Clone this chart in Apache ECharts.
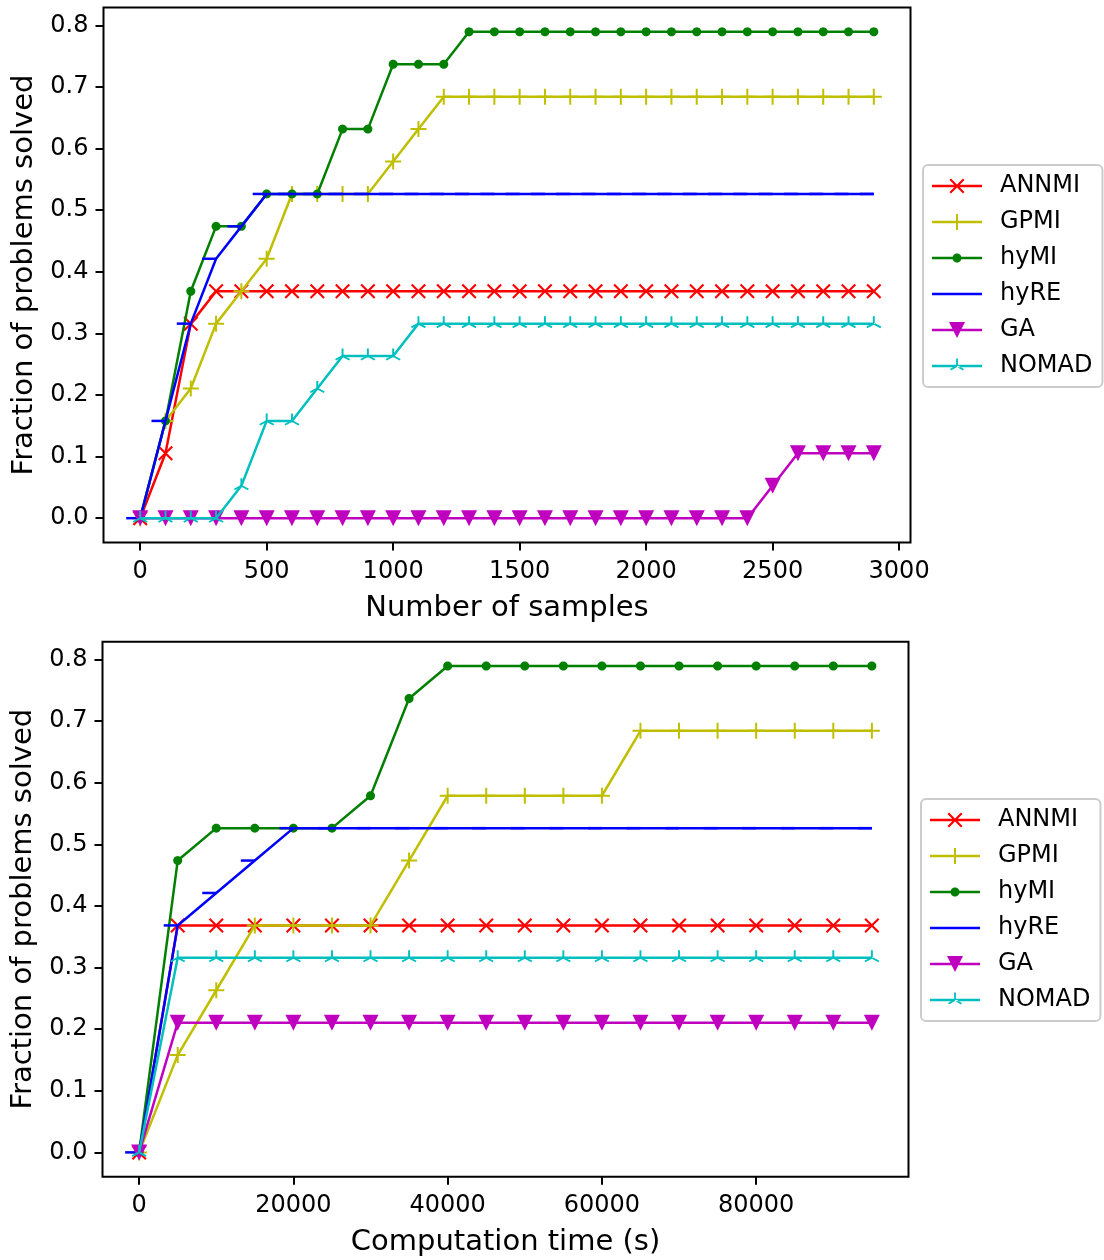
<!DOCTYPE html>
<html><head><meta charset="utf-8">
<script src="https://cdn.jsdelivr.net/npm/echarts@6/dist/echarts.min.js"></script>
<style>html,body{margin:0;padding:0;background:#fff}#c{width:1104px;height:1260px}</style>
</head><body><div id="c"></div>
<script>
// ---------------- data ----------------
const seriesNames = ['ANNMI', 'GPMI', 'hyMI', 'hyRE', 'GA', 'NOMAD'];

// Top panel: number of samples
const samplesX = [0,100,200,300,400,500,600,700,800,900,1000,1100,1200,1300,1400,1500,1600,1700,1800,1900,2000,2100,2200,2300,2400,2500,2600,2700,2800,2900];
const annmiSamples = [0,0.1053,0.3158,0.3684,0.3684,0.3684,0.3684,0.3684,0.3684,0.3684,0.3684,0.3684,0.3684,0.3684,0.3684,0.3684,0.3684,0.3684,0.3684,0.3684,0.3684,0.3684,0.3684,0.3684,0.3684,0.3684,0.3684,0.3684,0.3684,0.3684];
const gpmiSamples  = [0,0.1579,0.2105,0.3158,0.3684,0.4211,0.5263,0.5263,0.5263,0.5263,0.5789,0.6316,0.6842,0.6842,0.6842,0.6842,0.6842,0.6842,0.6842,0.6842,0.6842,0.6842,0.6842,0.6842,0.6842,0.6842,0.6842,0.6842,0.6842,0.6842];
const hymiSamples  = [0,0.1579,0.3684,0.4737,0.4737,0.5263,0.5263,0.5263,0.6316,0.6316,0.7368,0.7368,0.7368,0.7895,0.7895,0.7895,0.7895,0.7895,0.7895,0.7895,0.7895,0.7895,0.7895,0.7895,0.7895,0.7895,0.7895,0.7895,0.7895,0.7895];
const hyreSamples  = [0,0.1579,0.3158,0.4211,0.4737,0.5263,0.5263,0.5263,0.5263,0.5263,0.5263,0.5263,0.5263,0.5263,0.5263,0.5263,0.5263,0.5263,0.5263,0.5263,0.5263,0.5263,0.5263,0.5263,0.5263,0.5263,0.5263,0.5263,0.5263,0.5263];
const gaSamples    = [0,0,0,0,0,0,0,0,0,0,0,0,0,0,0,0,0,0,0,0,0,0,0,0,0,0.0526,0.1053,0.1053,0.1053,0.1053];
const nomadSamples = [0,0,0,0,0.0526,0.1579,0.1579,0.2105,0.2632,0.2632,0.2632,0.3158,0.3158,0.3158,0.3158,0.3158,0.3158,0.3158,0.3158,0.3158,0.3158,0.3158,0.3158,0.3158,0.3158,0.3158,0.3158,0.3158,0.3158,0.3158];

// Bottom panel: computation time (s)
const timeX = [0,5000,10000,15000,20000,25000,30000,35000,40000,45000,50000,55000,60000,65000,70000,75000,80000,85000,90000,95000];
const annmiTime = [0,0.3684,0.3684,0.3684,0.3684,0.3684,0.3684,0.3684,0.3684,0.3684,0.3684,0.3684,0.3684,0.3684,0.3684,0.3684,0.3684,0.3684,0.3684,0.3684];
const gpmiTime  = [0,0.1579,0.2632,0.3684,0.3684,0.3684,0.3684,0.4737,0.5789,0.5789,0.5789,0.5789,0.5789,0.6842,0.6842,0.6842,0.6842,0.6842,0.6842,0.6842];
const hymiTime  = [0,0.4737,0.5263,0.5263,0.5263,0.5263,0.5789,0.7368,0.7895,0.7895,0.7895,0.7895,0.7895,0.7895,0.7895,0.7895,0.7895,0.7895,0.7895,0.7895];
const hyreTime  = [0,0.3684,0.4211,0.4737,0.5263,0.5263,0.5263,0.5263,0.5263,0.5263,0.5263,0.5263,0.5263,0.5263,0.5263,0.5263,0.5263,0.5263,0.5263,0.5263];
const gaTime    = [0,0.2105,0.2105,0.2105,0.2105,0.2105,0.2105,0.2105,0.2105,0.2105,0.2105,0.2105,0.2105,0.2105,0.2105,0.2105,0.2105,0.2105,0.2105,0.2105];
const nomadTime = [0,0.3158,0.3158,0.3158,0.3158,0.3158,0.3158,0.3158,0.3158,0.3158,0.3158,0.3158,0.3158,0.3158,0.3158,0.3158,0.3158,0.3158,0.3158,0.3158];

// Tick labels
const samplesTicks = [0,500,1000,1500,2000,2500,3000];
const timeTicks = [0,20000,40000,60000,80000];
const fracTicks = [0,0.1,0.2,0.3,0.4,0.5,0.6,0.7,0.8];

const xNameTop = 'Number of samples';
const xNameBottom = 'Computation time (s)';
const yName = 'Fraction of problems solved';

// ---------------- styles ----------------
const FONT = 'DejaVu Sans';
const TICK_FS = 24;
const NAME_FS = 29;
const colors = ['#ff0000', '#bfbf00', '#008000', '#0000ff', '#bf00bf', '#00bfbf'];

function circlePoly(n) {
  const p = [];
  for (let i = 0; i < n; i++) { const a = 2 * Math.PI * i / n; p.push([10 + 10 * Math.cos(a), 10 + 10 * Math.sin(a)]); }
  return p;
}
const shapes = {
  x: [[[0,2],[2,0],[10,8],[18,0],[20,2],[12,10],[20,18],[18,20],[10,12],[2,20],[0,18],[8,10]]],
  plus: [[[8.75,0],[11.25,0],[11.25,8.75],[20,8.75],[20,11.25],[11.25,11.25],[11.25,20],[8.75,20],[8.75,11.25],[0,11.25],[0,8.75],[8.75,8.75]]],
  dot: [circlePoly(32)],
  tickleft: [[[0,9],[20,9],[20,11],[0,11]]],
  tridown: [[[0,0],[20,0],[10,20]]],
  triup: [
    [[8.8,0],[11.2,0],[11.2,10],[8.8,10]],
    [[10.6,11.039],[1.94,16.039],[0.74,13.961],[9.4,8.961]],
    [[9.4,11.039],[18.06,16.039],[19.26,13.961],[10.6,8.961]],
    [[10,20],[10.05,20],[10,19.95]]
  ]
};
const seriesShape = ['x', 'plus', 'dot', 'tickleft', 'tridown', 'triup'];
const seriesSize = [15, 16, 9, [14, 2.5], 16, 15];

function toPath(polys, dx, dy, s) {
  return 'path://' + polys.map(p => 'M' + p.map(([x, y]) => (dx + x * s).toFixed(3) + ',' + (dy + y * s).toFixed(3)).join('L') + 'Z').join(' ');
}
function legendIcon(k) {
  const line = [[[0,8.75],[50,8.75],[50,11.25],[0,11.25]]];
  if (seriesShape[k] === 'tickleft') return toPath(line, 0, 0, 1);
  const sz = seriesSize[k];
  const s = sz / 20;
  return toPath(line, 0, 0, 1) + ' ' + toPath(shapes[seriesShape[k]], 25 - 10 * s, 10 - 10 * s, s).slice(7);
}

const valuesTop = [annmiSamples, gpmiSamples, hymiSamples, hyreSamples, gaSamples, nomadSamples];
const valuesBottom = [annmiTime, gpmiTime, hymiTime, hyreTime, gaTime, nomadTime];

function mkSeries(g, xs, ys, k) {
  const isTick = seriesShape[k] === 'tickleft';
  return {
    type: 'line', name: seriesNames[k], xAxisIndex: g, yAxisIndex: g,
    data: xs.map((x, i) => [x, ys[i]]),
    symbol: toPath(shapes[seriesShape[k]], 0, 0, 1),
    symbolSize: seriesSize[k],
    symbolOffset: isTick ? [-7, 0] : [0, 0],
    showSymbol: true,
    lineStyle: { color: colors[k], width: 2.5 },
    itemStyle: { color: colors[k], borderWidth: 0 },
    z: 2 + k, animation: false, emphasis: { disabled: true }, silent: true
  };
}

function mkXAxis(g, min, max, ticks, name) {
  return {
    type: 'value', gridIndex: g, min: min, max: max,
    name: name, nameLocation: 'middle', nameGap: 51,
    nameTextStyle: { fontSize: NAME_FS, fontFamily: FONT, color: '#000' },
    axisLine: { show: false, onZero: false },
    axisTick: { show: true, length: 8, lineStyle: { color: '#000', width: 2 }, customValues: ticks },
    axisLabel: { fontSize: TICK_FS, fontFamily: FONT, color: '#000', margin: 17, customValues: ticks, formatter: v => String(v) },
    splitLine: { show: false }
  };
}
function mkYAxis(g) {
  return {
    type: 'value', gridIndex: g, min: -0.03947, max: 0.82895,
    name: yName, nameLocation: 'middle', nameGap: 65, nameRotate: 90,
    nameTextStyle: { fontSize: NAME_FS, fontFamily: FONT, color: '#000' },
    axisLine: { show: false, onZero: false },
    axisTick: { show: true, length: 8, lineStyle: { color: '#000', width: 2 }, customValues: fracTicks },
    axisLabel: { fontSize: TICK_FS, fontFamily: FONT, color: '#000', margin: 15, customValues: fracTicks, formatter: v => v.toFixed(1) },
    splitLine: { show: false }
  };
}
function mkLegend(left, top) {
  return {
    orient: 'vertical', left: left, top: top,
    itemWidth: 50, itemHeight: 20, itemGap: 12,
    padding: [9, 10, 9, 9],
    borderColor: '#cccccc', borderWidth: 2, borderRadius: 5, backgroundColor: '#ffffff',
    selectedMode: false,
    textStyle: { fontSize: TICK_FS, fontFamily: FONT, color: '#000', lineHeight: 24, padding: [0, 0, 0, 13] },
    data: seriesNames.map((n, k) => ({ name: n, icon: legendIcon(k), itemStyle: { color: colors[k], borderWidth: 0 } }))
  };
}

const chart = echarts.init(document.getElementById('c'), null, { renderer: 'canvas' });
chart.setOption({
  animation: false,
  backgroundColor: '#ffffff',
  grid: [
    { left: 103.5, top: 7.5, width: 807, height: 535, show: true, borderColor: '#000', borderWidth: 2, backgroundColor: 'transparent' },
    { left: 102.5, top: 641.7, width: 806, height: 535, show: true, borderColor: '#000', borderWidth: 2, backgroundColor: 'transparent' }
  ],
  xAxis: [
    mkXAxis(0, -145, 3045, samplesTicks, xNameTop),
    mkXAxis(1, -4750, 99750, timeTicks, xNameBottom)
  ],
  yAxis: [mkYAxis(0), mkYAxis(1)],
  legend: [mkLegend(923, 165), mkLegend(921, 799)],
  series: [
    ...valuesTop.map((ys, k) => mkSeries(0, samplesX, ys, k)),
    ...valuesBottom.map((ys, k) => mkSeries(1, timeX, ys, k))
  ]
});
</script>
</body></html>
